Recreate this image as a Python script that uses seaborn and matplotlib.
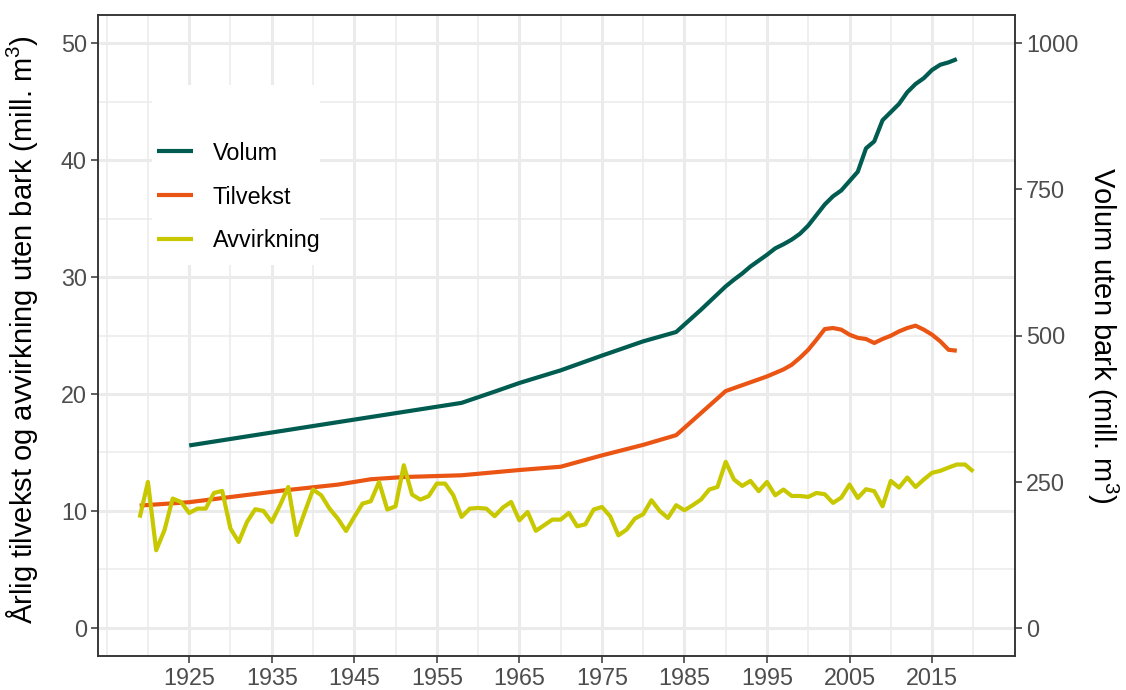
import numpy as np
import pandas as pd
import seaborn as sns
import matplotlib
matplotlib.use("Agg")
import matplotlib.pyplot as plt
from matplotlib.patches import Rectangle
from matplotlib.lines import Line2D

# --- data ---
avv_years = np.arange(1919, 2021)
avvirkning = [
    9.43, 12.48, 6.64, 8.35, 11.06, 10.77, 9.83, 10.2, 10.2, 11.54,     # 1919-1928
    11.71, 8.49, 7.35, 9.06, 10.15, 10.0, 9.06, 10.49, 12.05, 7.94,     # 1929-1938
    9.91, 11.83, 11.34, 10.2, 9.35, 8.29, 9.49, 10.63, 10.83, 12.48,    # 1939-1948
    10.12, 10.40, 13.91, 11.40, 10.97, 11.26, 12.34, 12.34, 11.34, 9.49,  # 1949-1958
    10.2, 10.26, 10.2, 9.55, 10.29, 10.77, 9.2, 9.91, 8.3, 8.78,       # 1959-1968
    9.26, 9.26, 9.83, 8.69, 8.86, 10.12, 10.34, 9.55, 7.92, 8.41,      # 1969-1978
    9.35, 9.72, 10.92, 10.0, 9.4, 10.49, 10.06, 10.49, 10.97, 11.83,   # 1979-1988
    12.05, 14.2, 12.69, 12.14, 12.57, 11.69, 12.48, 11.34, 11.83, 11.28,  # 1989-1998
    11.28, 11.2, 11.54, 11.43, 10.69, 11.14, 12.26, 11.11, 11.86, 11.69,  # 1999-2008
    10.40, 12.57, 12.0, 12.86, 12.05, 12.69, 13.26, 13.43, 13.71, 13.97,  # 2009-2018
    13.97, 13.37,                                                       # 2019-2020
]

tilv_years = [1919, 1925, 1936, 1943, 1947, 1951, 1958, 1965, 1970, 1975, 1980,
              1984, 1990, 1995, 1997, 1998, 1999, 2000, 2001, 2002, 2003, 2004,
              2005, 2006, 2007, 2008, 2009, 2010, 2011, 2012, 2013, 2014, 2015,
              2016, 2017, 2018]
tilvekst = [10.46, 10.75, 11.72, 12.25, 12.71, 12.9, 13.05, 13.5, 13.78, 14.75, 15.65,
            16.48, 20.25, 21.5, 22.1, 22.5, 23.1, 23.78, 24.64, 25.55, 25.64, 25.5,
            25.07, 24.8, 24.7, 24.36, 24.7, 24.98, 25.35, 25.64, 25.84, 25.5, 25.07,
            24.5, 23.78, 23.7]

vol_years = [1925, 1942, 1958, 1962, 1965, 1970, 1975, 1980, 1984, 1987, 1990,
             1991, 1992, 1993, 1994, 1995, 1996, 1997, 1998, 1999, 2000, 2001,
             2002, 2003, 2004, 2005, 2006, 2007, 2008, 2009, 2010, 2011, 2012,
             2013, 2014, 2015, 2016, 2017, 2018]
volum = [312, 349.6, 384.8, 404, 418.8, 440.4, 465.6, 490, 506, 544, 584,
         595.4, 606, 618, 628, 638, 649, 656, 664, 674, 688, 706,
         724, 738, 748, 764, 780, 820, 832, 868, 882, 896, 916,
         930, 940, 954, 963, 967, 972.6]

labels = ["Volum", "Tilvekst", "Avvirkning"]
colors = ["#005C50", "#EA5514", "#C8C800"]
x_major = [1925, 1935, 1945, 1955, 1965, 1975, 1985, 1995, 2005, 2015]
x_minor = [1915, 1920, 1930, 1940, 1950, 1960, 1970, 1980, 1990, 2000, 2010, 2020]

df_avv = pd.DataFrame({"year": avv_years, "value": avvirkning})
df_tilv = pd.DataFrame({"year": tilv_years, "value": tilvekst})
df_vol = pd.DataFrame({"year": vol_years, "value": volum})

sns.set_theme(style="whitegrid")
plt.rcParams["font.family"] = ["Liberation Sans", "DejaVu Sans"]
plt.rcParams["mathtext.fontset"] = "custom"
plt.rcParams["mathtext.rm"] = "Liberation Sans"
plt.rcParams["mathtext.it"] = "Liberation Sans:italic"

fig, ax = plt.subplots(figsize=(11.26, 6.90), dpi=100)
fig.subplots_adjust(left=98 / 1126, right=1015 / 1126, top=1 - 15 / 690, bottom=1 - 656 / 690)
ax2 = ax.twinx()

lw = 3.0
sns.lineplot(data=df_tilv, x="year", y="value", ax=ax, color=colors[1], lw=lw,
             solid_capstyle="butt", zorder=3)
sns.lineplot(data=df_avv, x="year", y="value", ax=ax, color=colors[2], lw=lw,
             solid_capstyle="butt", zorder=3)
sns.lineplot(data=df_vol, x="year", y="value", ax=ax2, color=colors[0], lw=lw,
             solid_capstyle="butt", zorder=3)

ax.set_xlim(1913.95, 2025.05)
ax.set_ylim(-2.4, 52.4)
ax2.set_ylim(-48, 1048)

ax.set_xticks(x_major)
ax.set_xticks(x_minor, minor=True)
ax.set_yticks([0, 10, 20, 30, 40, 50])
ax.set_yticks([5, 15, 25, 35, 45], minor=True)
ax2.set_yticks([0, 250, 500, 750, 1000])

ax.grid(True, which="major", color="#EBEBEB", lw=2.2)
ax.grid(True, which="minor", color="#EBEBEB", lw=1.1)
ax2.grid(False)
ax.set_axisbelow(True)

tick_kw = dict(labelsize=16.8, labelcolor="#4D4D4D", color="#333333",
               length=5, width=1.1, pad=3)
ax.tick_params(axis="both", which="major", bottom=True, left=True, **tick_kw)
ax.tick_params(axis="both", which="minor", length=0)
ax2.tick_params(axis="y", which="major", right=True, **tick_kw)

for a in (ax, ax2):
    for s in a.spines.values():
        s.set_color("#333333")
        s.set_linewidth(1.1)

ax.set_xlabel("")
ax.set_ylabel("Årlig tilvekst og avvirkning uten bark (mill. m$^3$)", fontsize=21, color="black")
ax2.set_ylabel("Volum uten bark (mill. m$^3$)", fontsize=21, color="black", rotation=270)
ax.yaxis.set_label_coords(-0.063, 0.51)
ax2.yaxis.set_label_coords(1.1145, 0.5)

# white legend background over the grid
bg = Rectangle(((152 - 98) / 917, (656 - 265) / 641), 168 / 917, 180 / 641,
               transform=ax.transAxes, facecolor="white", edgecolor="none", zorder=1)
ax.add_patch(bg)

handles = [Line2D([0], [0], color=c, lw=lw, solid_capstyle="butt") for c in colors]
ax2.legend(handles, labels, loc="center left",
           bbox_to_anchor=((152 - 98) / 917, (656 - 197) / 641),
           frameon=False, fontsize=16.8, handlelength=1.55, handletextpad=0.85,
           labelspacing=0.9, borderpad=0.2, borderaxespad=0, labelcolor="black")

fig.savefig("out.png", dpi=100)
